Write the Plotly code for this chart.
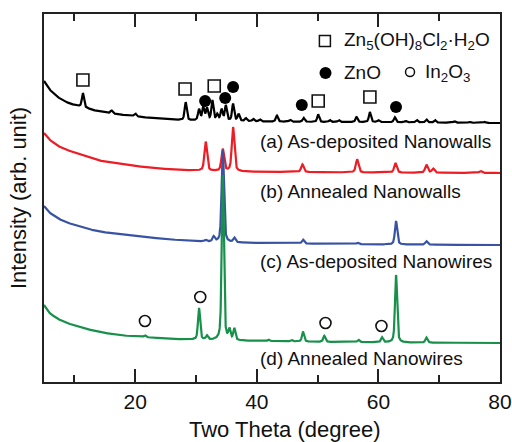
import numpy as np
import plotly.graph_objects as go

# ---- XRD patterns: background nodes and peak tables (2-theta in degrees, intensity in arb. units) ----
# (a) As-deposited nanowalls
a_bg_x = [5.0, 5.5, 6.0, 6.5, 7.0, 8.0, 9.0, 10.0, 11.0, 12.0, 13.0, 15.0, 18.0, 21.0, 24.0, 27.0, 30.0, 35.0, 40.0, 50.0, 60.0, 70.0, 80.0]
a_bg_y = [42, 37, 33, 30, 27, 23, 20, 18, 16.5, 15, 13, 10.5, 8, 6, 4, 3, 2.5, 2, 1.5, 1, 0.8, 0.4, 0]
a_pk_x = [11.4, 16.1, 20.0, 28.3, 30.5, 31.2, 31.8, 32.7, 33.5, 34.2, 34.9, 36.1, 37.0, 38.2, 39.4, 40.5,
          43.3, 45.5, 47.7, 50.1, 52.0, 53.5, 56.4, 58.6, 60.0, 62.7, 64.5, 66.3, 67.9, 69.3, 72.5, 75.0, 77.5]
a_pk_h = [14, 3, 3, 18, 11, 13.5, 12, 20, 6, 11, 15, 17, 7, 3, 2.5, 2,
          6, 2, 4, 7.5, 2, 2, 5, 10, 2, 5, 1.5, 2.5, 3, 2.5, 1.5, 1, 1]

# (b) Annealed nanowalls
b_bg_x = [5.0, 5.5, 6.0, 7.0, 8.0, 9.0, 10.0, 12.0, 14.0, 17.0, 20.0, 24.0, 28.0, 32.0, 40.0, 50.0, 60.0, 80.0]
b_bg_y = [40, 36, 33, 28, 25, 22.5, 20.5, 16, 12.5, 9.5, 7, 4.5, 3, 2, 1.2, 0.8, 0.5, 0]
b_pk_x = [31.6, 34.4, 36.1, 47.5, 56.5, 62.8, 67.9, 69.0, 76.8]
b_pk_h = [29, 22, 44, 7.7, 13, 9.5, 8, 4, 2]

# (c) As-deposited nanowires
c_bg_x = [5.0, 5.5, 6.0, 7.0, 8.0, 9.0, 10.0, 12.0, 14.0, 17.0, 20.0, 24.0, 28.0, 32.0, 36.0, 40.0, 50.0, 60.0, 80.0]
c_bg_y = [39, 35, 32, 27.5, 24.5, 22, 20, 16.5, 13.5, 11, 9, 6.5, 4.5, 3.2, 2.5, 2, 1.2, 0.6, 0]
c_pk_x = [31.6, 32.9, 34.4, 36.3, 47.6, 56.6, 62.9, 67.9]
c_pk_h = [1.5, 5, 92, 4.5, 4, 1.5, 23.5, 3.5]

# (d) Annealed nanowires
d_bg_x = [5.0, 5.5, 6.0, 7.0, 8.0, 9.0, 10.0, 12.0, 15.0, 18.0, 21.0, 26.0, 30.0, 35.0, 40.0, 50.0, 60.0, 80.0]
d_bg_y = [38, 33, 29.5, 25, 22, 19.5, 17.5, 14, 10, 7.5, 6, 4, 3.3, 2.5, 2, 1.2, 0.6, 0]
d_pk_x = [21.6, 30.5, 31.8, 34.4, 35.5, 36.3, 41.9, 45.7, 47.6, 51.1, 56.7, 60.6, 62.9, 67.9]
d_pk_h = [2, 31.7, 4, 165, 10, 11.5, 1.5, 1.5, 10, 6, 2.5, 5, 67.5, 5]

# vertical stacking offsets of the four patterns
offsets = [259, 209, 137, 39]
colors = ["#000000", "#ee1c24", "#3953a4", "#17904a"]
labels = ["(a) As-deposited Nanowalls", "(b) Annealed Nanowalls",
          "(c) As-deposited Nanowires", "(d) Annealed Nanowires"]

# phase assignments: 2-theta of marked reflections and marker heights
hz_x = [11.4, 28.2, 33.0, 50.1, 58.6]          # Zn5(OH)8Cl2·H2O
hz_y = [302, 293, 296, 281, 285]
zno_x = [31.5, 34.8, 36.1, 47.4, 62.9]         # ZnO
zno_y = [281, 284, 295, 277, 275]
ino_x = [21.6, 30.7, 51.3, 60.5]               # In2O3
ino_y = [61, 85, 59, 56]

xtick_vals = [20, 40, 60, 80]
xminor_vals = [10, 30, 50, 70]

FONT = "Liberation Sans, Arial, sans-serif"


def profile(bg_x, bg_y, pk_x, pk_h, hw):
    x = np.arange(5.0, 80.0001, 0.02)
    y = np.interp(x, bg_x, bg_y)
    for p, h in zip(pk_x, pk_h):
        u = (x - p) / hw
        y = y + h * (0.5 / (1 + u ** 2) + 0.5 * np.exp(-np.log(2) * u ** 2))
    return x, y


patterns = [
    (a_bg_x, a_bg_y, a_pk_x, a_pk_h, 0.2),
    (b_bg_x, b_bg_y, b_pk_x, b_pk_h, 0.25),
    (c_bg_x, c_bg_y, c_pk_x, c_pk_h, 0.22),
    (d_bg_x, d_bg_y, d_pk_x, d_pk_h, 0.2),
]

fig = go.Figure()
for (bx, by, px, ph, hw), off, col in zip(patterns, offsets, colors):
    x, y = profile(bx, by, px, ph, hw)
    fig.add_trace(go.Scatter(x=x, y=y + off, mode="lines",
                             line=dict(color=col, width=2.2), hoverinfo="skip"))

# phase markers on the peaks
fig.add_trace(go.Scatter(x=hz_x, y=hz_y, mode="markers",
                         marker=dict(symbol="square-open", size=12, color="#111",
                                     line=dict(width=1.6))))
fig.add_trace(go.Scatter(x=zno_x, y=zno_y, mode="markers",
                         marker=dict(symbol="circle", size=12, color="#000")))
fig.add_trace(go.Scatter(x=ino_x, y=ino_y, mode="markers",
                         marker=dict(symbol="circle-open", size=11, color="#111",
                                     line=dict(width=1.6))))

# key for the phase symbols
fig.add_trace(go.Scatter(x=[51.2], y=[341], mode="markers",
                         marker=dict(symbol="square-open", size=11, color="#111",
                                     line=dict(width=1.5))))
fig.add_trace(go.Scatter(x=[51.3], y=[309], mode="markers",
                         marker=dict(symbol="circle", size=12, color="#000")))
fig.add_trace(go.Scatter(x=[65.2], y=[310], mode="markers",
                         marker=dict(symbol="circle-open", size=9, color="#111",
                                     line=dict(width=1.5))))

annotations = []
for lab, ypos in zip(labels, [0.653, 0.519, 0.327, 0.064]):
    annotations.append(dict(text=lab, x=0.469, y=ypos, xref="paper", yref="paper",
                            xanchor="left", yanchor="middle", showarrow=False,
                            font=dict(size=19, color="#111", family=FONT)))
annotations += [
    dict(text="Zn<sub>5</sub>(OH)<sub>8</sub>Cl<sub>2</sub>·H<sub>2</sub>O", x=0.653, y=0.927,
         xref="paper", yref="paper", xanchor="left", yanchor="middle", showarrow=False,
         font=dict(size=19, color="#111", family=FONT)),
    dict(text="ZnO", x=0.653, y=0.840, xref="paper", yref="paper", xanchor="left",
         yanchor="middle", showarrow=False, font=dict(size=19, color="#111", family=FONT)),
    dict(text="In<sub>2</sub>O<sub>3</sub>", x=0.831, y=0.840, xref="paper", yref="paper",
         xanchor="left", yanchor="middle", showarrow=False,
         font=dict(size=19, color="#111", family=FONT)),
    dict(text="Two Theta (degree)", x=0.528, y=-0.130, xref="paper", yref="paper",
         xanchor="center", yanchor="middle", showarrow=False,
         font=dict(size=22, color="#111", family=FONT)),
    dict(text="Intensity (arb. unit)", x=-0.057, y=0.5, xref="paper", yref="paper",
         xanchor="center", yanchor="middle", textangle=-90, showarrow=False,
         font=dict(size=22, color="#111", family=FONT)),
]

fig.update_layout(
    width=512, height=442,
    margin=dict(l=44, r=12, t=14, b=60, autoexpand=False),
    paper_bgcolor="white", plot_bgcolor="white",
    showlegend=False,
    annotations=annotations,
    font=dict(family=FONT, color="#111"),
)
fig.update_xaxes(range=[5, 80], tickvals=xtick_vals, ticks="inside", ticklen=13,
                 tickwidth=1.8, tickcolor="#222", showline=True, linewidth=2,
                 linecolor="#222", mirror="ticks", showgrid=False, zeroline=False,
                 automargin=False,
                 tickfont=dict(size=21, family=FONT, color="#111"),
                 minor=dict(tickvals=xminor_vals, ticks="inside", ticklen=7,
                            tickwidth=1.8, tickcolor="#222"))
fig.update_yaxes(range=[0, 368], showticklabels=False, ticks="", showline=True,
                 linewidth=2, linecolor="#222", mirror=True, showgrid=False,
                 zeroline=False, automargin=False)

fig.write_html("out.html")
